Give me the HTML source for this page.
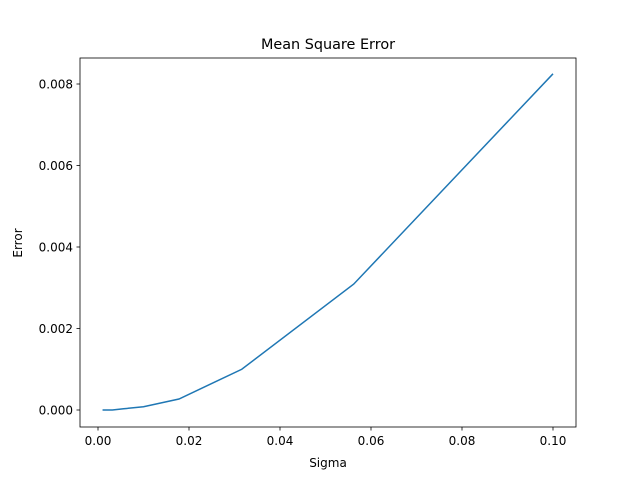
<!DOCTYPE html>
<html><head><meta charset="utf-8"><style>
body{margin:0;background:#fff;font-family:"Liberation Sans","DejaVu Sans",sans-serif}
svg text{font-family:"DejaVu Sans","Liberation Sans",sans-serif;font-size:12px;fill:#000}
</style></head><body>
<svg id="chart" width="640" height="480" xmlns="http://www.w3.org/2000/svg">
<rect width="640" height="480" fill="#fff"/>
<text x="328" y="49" text-anchor="middle" style="font-size:14.4px">Mean Square Error</text>
<g id="ticks"></g>
<path id="line" fill="none" stroke="#1f77b4" stroke-width="1.5"/>
<rect x="80" y="58" width="496" height="369" fill="none" stroke="#000" stroke-width="0.8"/>
<text x="328" y="467" text-anchor="middle">Sigma</text>
<text transform="translate(22,243) rotate(-90)" text-anchor="middle">Error</text>
</svg>
<script>
const sigma=[0.001,0.00178,0.00316,0.00562,0.01,0.0178,0.0316,0.0562,0.1];
const error=[0.0000001,0.0000003,0.000001,0.00003,0.00008,0.00027,0.001,0.00309,0.00825];
const xTicks=[0,0.02,0.04,0.06,0.08,0.10];
const xLabels=["0.00","0.02","0.04","0.06","0.08","0.10"];
const yTicks=[0,0.002,0.004,0.006,0.008];
const yLabels=["0.000","0.002","0.004","0.006","0.008"];
const X=v=>98+v*4550, Y=v=>410-v*40750;
const ns="http://www.w3.org/2000/svg", g=document.getElementById('ticks');
function mk(t,a){const e=document.createElementNS(ns,t);for(const k in a)e.setAttribute(k,a[k]);g.appendChild(e);return e;}
xTicks.forEach((v,i)=>{
 const l=mk('line',{x1:X(v),x2:X(v),y1:427,y2:430.5,stroke:'#000','stroke-width':0.8});
 
 
 const t=mk('text',{x:X(v),y:445,'text-anchor':'middle'});t.textContent=xLabels[i];
 
 
});
yTicks.forEach((v,i)=>{
 const l=mk('line',{x1:76.5,x2:80,y1:Y(v),y2:Y(v),stroke:'#000','stroke-width':0.8});
 
 
 const t=mk('text',{x:73,y:Y(v)+4.5,'text-anchor':'end'});t.textContent=yLabels[i];
 
 
});
document.getElementById('line').setAttribute('d',sigma.map((s,i)=>(i?'L':'M')+X(s)+','+Y(error[i])).join(''));
</script>
</body></html>
